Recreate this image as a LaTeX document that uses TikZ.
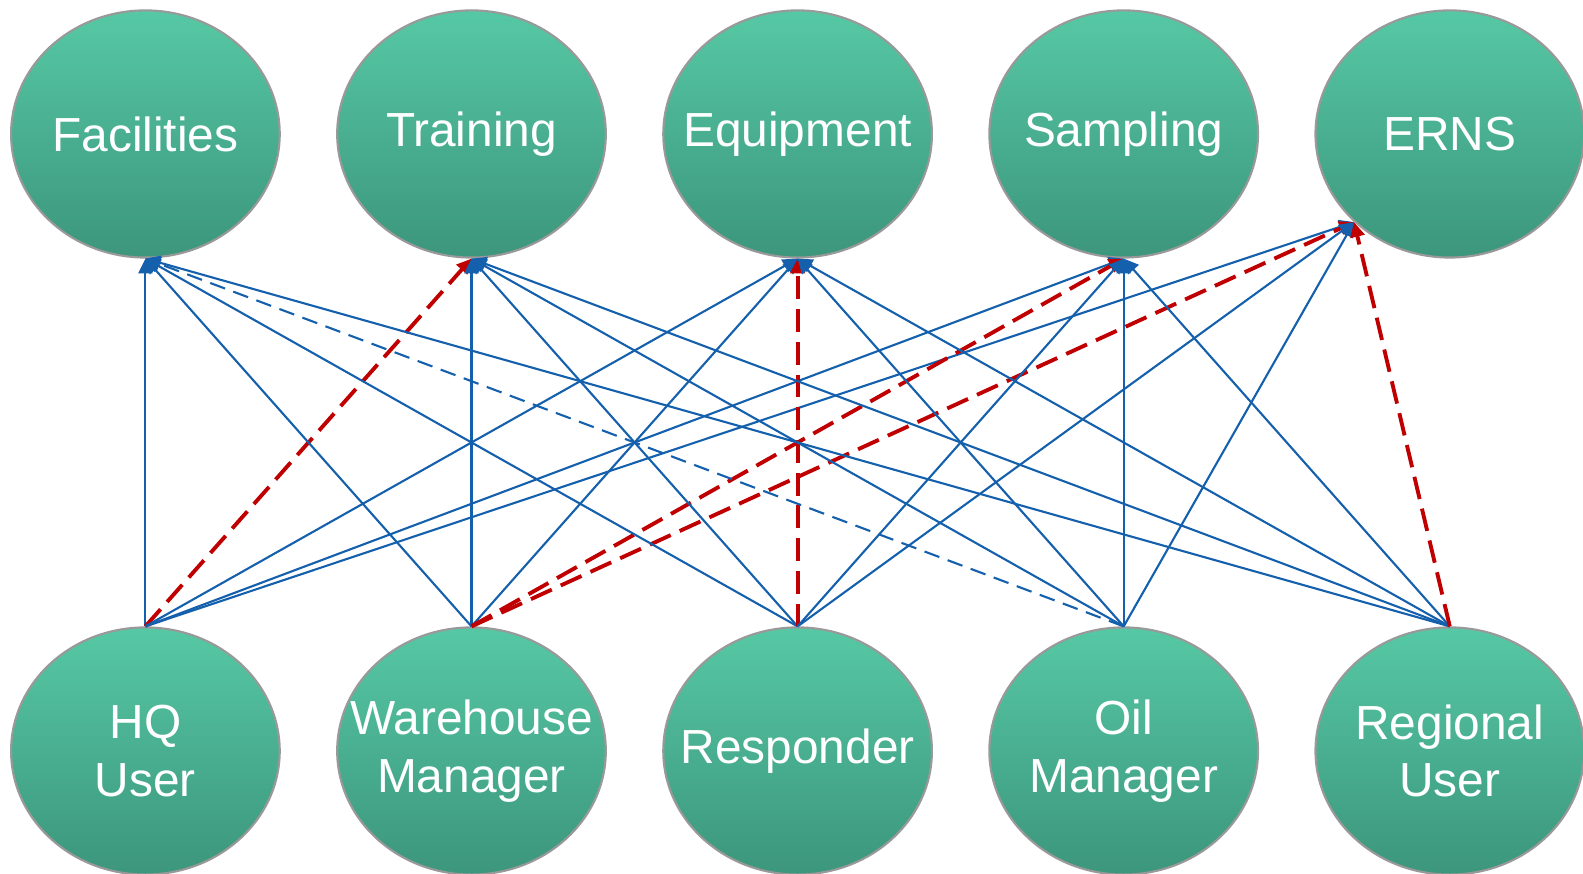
\documentclass[tikz,border=0pt]{standalone}
\usepackage{fontspec}
\setmainfont{Liberation Sans}
\usetikzlibrary{positioning, shapes.geometric, arrows.meta}

\definecolor{linkblue}{RGB}{21,96,172}
\definecolor{linkred}{RGB}{192,0,0}
\definecolor{tealtop}{RGB}{86,200,164}
\definecolor{tealbot}{RGB}{60,150,124}

\begin{document}
\begin{tikzpicture}[x=0.01cm, y=0.01cm,
        bubble/.style={ellipse, minimum width=2.685cm, minimum height=2.47cm,
            inner sep=0pt, draw=black!40, line width=0.6pt,
            top color=tealtop, bottom color=tealbot,
            label={[bubbletext]center:#1}},
        bubbletext/.style={text=white, align=center, inner sep=0pt,
            font=\fontsize{13.6}{16.4}\selectfont},
        link/.style={draw=linkblue, line width=0.6pt,
            -{Triangle[length=4.2pt, width=4pt]}},
        weaklink/.style={link, dash pattern=on 4.5pt off 2.5pt},
        mainlink/.style={draw=linkred, line width=1.1pt, dash pattern=on 6.5pt off 2.8pt,
            -{Triangle[length=4.2pt, width=4pt]}}]
    \useasboundingbox (0,0) rectangle (1583,874);

    % services
    \node[bubble={Facilities}] (fac) at (145.4,740) {};
    \node[bubble={Training}, right=0.553cm of fac] (trn) {};
    \node[bubble={Equipment}, right=0.553cm of trn] (eqp) {};
    \node[bubble={Sampling}, right=0.553cm of eqp] (smp) {};
    \node[bubble={ERNS}, right=0.553cm of smp] (erns) {};

    % users
    \node[bubble={HQ\\User}] (hq) at (145.4,123) {};
    \node[bubble={Warehouse\\Manager}, right=0.553cm of hq] (wh) {};
    \node[bubble={Responder}, right=0.553cm of wh] (resp) {};
    \node[bubble={Oil\\Manager}, right=0.553cm of resp] (oil) {};
    \node[bubble={Regional\\User}, right=0.553cm of oil] (reg) {};

    % HQ user
    \draw[link] (hq.north) -- (fac.south);
    \draw[mainlink] (hq.north) -- (trn.south);
    \draw[link] (hq.north) -- (eqp.south);
    \draw[link] (hq.north) -- (smp.south);
    \draw[link] (hq.north) -- (erns.south west);

    % warehouse manager
    \draw[link] (wh.north) -- (fac.south);
    \draw[link] (wh.north) -- (trn.south);
    \draw[link] (wh.north) -- (eqp.south);
    \draw[mainlink] (wh.north) -- (smp.south);
    \draw[mainlink] (wh.north) -- (erns.south west);

    % responder
    \draw[link] (resp.north) -- (fac.south);
    \draw[link] (resp.north) -- (trn.south);
    \draw[mainlink] (resp.north) -- (eqp.south);
    \draw[link] (resp.north) -- (smp.south);
    \draw[link] (resp.north) -- (erns.south west);

    % oil manager
    \draw[weaklink] (oil.north) -- (fac.south);
    \draw[link] (oil.north) -- (trn.south);
    \draw[link] (oil.north) -- (eqp.south);
    \draw[link] (oil.north) -- (smp.south);
    \draw[link] (oil.north) -- (erns.south west);

    % regional user
    \draw[link] (reg.north) -- (fac.south);
    \draw[link] (reg.north) -- (trn.south);
    \draw[link] (reg.north) -- (eqp.south);
    \draw[link] (reg.north) -- (smp.south);
    \draw[mainlink] (reg.north) -- (erns.south west);
\end{tikzpicture}
\end{document}
